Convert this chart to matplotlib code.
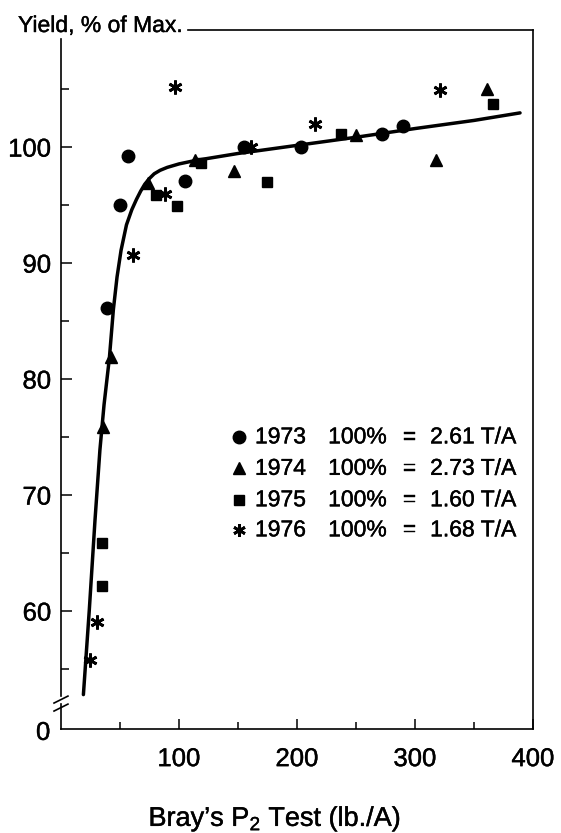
import matplotlib
matplotlib.use('Agg')
import matplotlib.pyplot as plt
from matplotlib.ticker import FixedLocator, NullFormatter
import matplotlib.patheffects as pe

plt.rcParams['font.family'] = ['Liberation Sans', 'DejaVu Sans']
plt.rcParams['mathtext.fontset'] = 'custom'
plt.rcParams['mathtext.rm'] = 'Liberation Sans'
plt.rcParams['mathtext.it'] = 'Liberation Sans:italic'

# ---- data ----
x1973 = [38.7, 50.0, 57.0, 104.8, 155.5, 203.5, 272.0, 289.5]
y1973 = [86.1, 95.0, 99.2, 97.1, 100.0, 100.0, 101.1, 101.85]
x1974 = [35.3, 42.1, 73.7, 113.9, 146.2, 250.2, 317.8, 361.3]
y1974 = [75.9, 81.9, 96.9, 98.85, 97.9, 101.05, 98.85, 105.05]
x1975 = [34.5, 34.5, 80.6, 98.6, 119.0, 174.4, 236.9, 366.5]
y1975 = [65.9, 62.2, 95.9, 94.9, 98.65, 97.0, 101.15, 103.7]
x1976 = [24.6, 30.8, 61.3, 87.9, 96.3, 161.3, 215.0, 321.4]
y1976 = [55.8, 59.1, 90.7, 96.0, 105.2, 100.0, 101.95, 104.9]

curve_x = [19.0, 24.0, 28.8, 33.0, 36.5, 41.0, 44.4, 47.5, 50.9, 55.5,
           60.0, 64.0, 67.5, 71.0, 75.0, 79.0, 84.0, 90.0, 100.0, 114.0,
           150.0, 200.0, 250.0, 300.0, 350.0, 389.0]
curve_y = [52.8, 60.1, 67.8, 73.9, 77.8, 81.8, 86.0, 88.8, 91.1, 93.3,
           94.6, 95.5, 96.2, 96.8, 97.3, 97.7, 98.0, 98.25, 98.55, 98.85,
           99.45, 100.15, 100.85, 101.6, 102.3, 102.95]

years = ['1973', '1974', '1975', '1976']
max_yield = ['2.61', '2.73', '1.60', '1.68']

x_major = [100, 200, 300, 400]
x_minor = [50, 150, 250, 350]
y_major = [60, 70, 80, 90, 100]
y_minor = [55, 65, 75, 85, 95, 105]

thick = [pe.withStroke(linewidth=0.3, foreground='black')]

# ---- figure ----
fig = plt.figure(figsize=(5.61, 8.33), dpi=100)
ax = fig.add_axes([0.1087, 0.1248, 0.8414, 0.8391])
YMIN, YMAX = 49.83, 110.09
ax.set_xlim(0, 400)
ax.set_ylim(YMIN, YMAX)

styles = [
    dict(marker='o', ms=9.0, mfc='black', mec='black', ls='none'),
    dict(marker='^', ms=8.5, mfc='black', mec='black', ls='none'),
    dict(marker='s', ms=7.0, mfc='black', mec='black', ls='none'),
    dict(marker=(6, 2, 0), ms=10.0, mfc='black', mec='black', mew=2.0, ls='none'),
]
series = [(x1973, y1973), (x1974, y1974), (x1975, y1975), (x1976, y1976)]
for (xs, ys), st in zip(series, styles):
    ax.plot(xs, ys, zorder=3, **st)

ax.plot(curve_x, curve_y, color='black', lw=2.5, solid_capstyle='round',
        solid_joinstyle='round', zorder=2)

# spines
for s in ['left', 'top']:
    ax.spines[s].set_visible(False)
for s in ['right', 'bottom']:
    ax.spines[s].set_linewidth(1.2)

lkw = dict(color='black', lw=1.2, clip_on=False, zorder=4)
# left spine with break
ax.plot([0, 0], [YMIN, 51.98], **lkw)
ax.plot([0, 0], [52.67, 109.3], **lkw)
ax.plot([-5.9, 5.9], [52.07, 52.67], **lkw)
ax.plot([-5.9, 5.9], [51.38, 51.98], **lkw)
# top spine (starts after the title)
ax.plot([108, 400], [YMAX, YMAX], **lkw)

# ticks
ax.xaxis.set_major_locator(FixedLocator(x_major))
ax.xaxis.set_minor_locator(FixedLocator(x_minor))
ax.yaxis.set_major_locator(FixedLocator(y_major))
ax.yaxis.set_minor_locator(FixedLocator(y_minor))
ax.xaxis.set_minor_formatter(NullFormatter())
ax.yaxis.set_minor_formatter(NullFormatter())
ax.tick_params(axis='both', which='both', direction='in', width=1.1,
               colors='black', labelsize=18.5)
ax.tick_params(axis='x', which='major', length=7.5, pad=13)
ax.tick_params(axis='x', which='minor', length=5)
ax.tick_params(axis='y', which='major', length=8, pad=7)
ax.tick_params(axis='y', which='minor', length=6)
ax.tick_params(axis='x', which='both', top=False)
ax.tick_params(axis='y', which='both', right=False)
for lab in ax.get_xticklabels() + ax.get_yticklabels():
    lab.set_path_effects(thick)

# "0" at the broken origin
ax.text(-9.0, 49.5, '0', ha='right', va='center', fontsize=18.5,
        clip_on=False, path_effects=thick)

# titles
fig.text(18 / 561, 1 - 32 / 833, 'Yield, % of Max.', fontsize=16.5,
         ha='left', va='baseline', path_effects=thick)
fig.text(275 / 561, 1 - 826 / 833, 'Bray\u2019s P$_\\mathregular{2}$ Test (lb./A)',
         fontsize=19.5, ha='center', va='baseline', path_effects=thick)

# legend block
leg_y = [0.418, 0.373, 0.328, 0.285]
for i, (yr, my) in enumerate(zip(years, max_yield)):
    st = dict(styles[i])
    if i == 3:
        st['ms'] = 9.0
    ax.plot([0.377], [leg_y[i]], transform=ax.transAxes, clip_on=False, **st)
    ax.text(0.411, leg_y[i], yr, transform=ax.transAxes, fontsize=16.5,
            ha='left', va='center', path_effects=thick)
    ax.text(0.566, leg_y[i], '100%', transform=ax.transAxes, fontsize=16.5,
            ha='left', va='center', path_effects=thick)
    ax.text(0.725, leg_y[i], '=', transform=ax.transAxes, fontsize=16.5,
            ha='left', va='center', path_effects=thick)
    ax.text(0.782, leg_y[i], f'{my} T/A', transform=ax.transAxes, fontsize=16.5,
            ha='left', va='center', path_effects=thick)

fig.savefig('out.png', dpi=100)
